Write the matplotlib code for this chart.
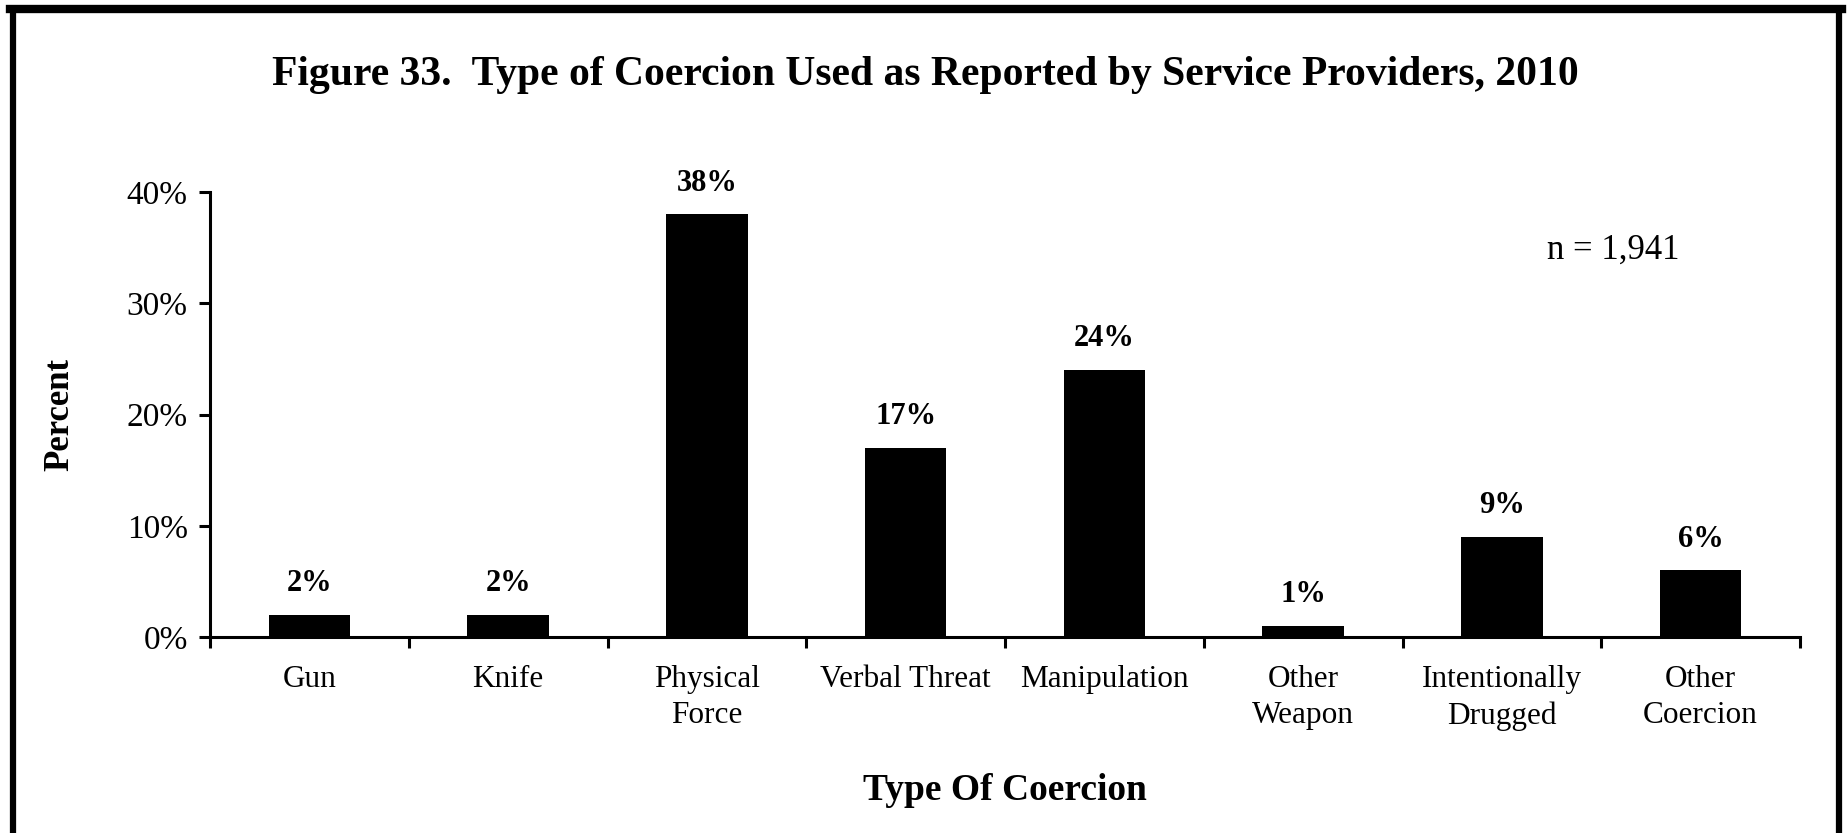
import numpy as np
import matplotlib.pyplot as plt
from matplotlib.lines import Line2D

categories = ["Gun", "Knife", "Physical\nForce", "Verbal Threat", "Manipulation",
              "Other\nWeapon", "Intentionally\nDrugged", "Other\nCoercion"]
percent = [2, 2, 38, 17, 24, 1, 9, 6]
yticks = [0, 10, 20, 30, 40]
ytick_labels = ["0%", "10%", "20%", "30%", "40%"]

plt.rcParams['font.family'] = ['Liberation Serif', 'DejaVu Serif']

fig = plt.figure(figsize=(18.47, 8.33), dpi=100)
ax = fig.add_axes([210/1847, 1 - 637/833, 1590/1847, 445/833])

x = np.arange(len(categories))
ax.bar(x, percent, width=0.41, color='black')
for xi, v in zip(x, percent):
    ax.text(xi, v + 1.5, f"{v}%", ha='center', va='bottom', fontsize=22, fontweight='bold')

ax.set_xlim(-0.5, len(categories) - 0.5)
ax.set_ylim(0, 40)
ax.set_yticks(yticks)
ax.set_yticklabels(ytick_labels, fontsize=24)
ax.set_xticks(x)
ax.set_xticklabels(categories, fontsize=22.5, linespacing=1.35)
ax.set_xticks(np.arange(-0.5, len(categories)), minor=True)
ax.tick_params(axis='x', which='major', length=0, pad=20)
ax.tick_params(axis='x', which='minor', length=8, width=2.2, direction='out')
ax.tick_params(axis='y', length=8, width=2.2, direction='out', pad=8)

for side in ['top', 'right']:
    ax.spines[side].set_visible(False)
ax.spines['left'].set_linewidth(2.2)
ax.spines['bottom'].set_linewidth(2.2)

ax.set_xlabel("Type Of Coercion", fontsize=27, fontweight='bold', labelpad=30)
ax.set_ylabel("Percent", fontsize=25, fontweight='bold', labelpad=36)

fig.text(925/1847, 1 - 75/833, "Figure 33.  Type of Coercion Used as Reported by Service Providers, 2010",
         ha='center', va='center', fontsize=30, fontweight='bold')
fig.text(1613/1847, 1 - 250/833, "n = 1,941", ha='center', va='center', fontsize=25)

# outer frame (left, top, right)
W, H = 1847, 833
fig.add_artist(Line2D([12.5/W, 12.5/W], [0, 1 - 9/H], color='black', linewidth=4.5, transform=fig.transFigure))
fig.add_artist(Line2D([10/W, 1842/W], [1 - 9/H, 1 - 9/H], color='black', linewidth=6, transform=fig.transFigure))
fig.add_artist(Line2D([1839/W, 1839/W], [0, 1 - 9/H], color='black', linewidth=4.5, transform=fig.transFigure))

fig.savefig("out.png", dpi=100)
